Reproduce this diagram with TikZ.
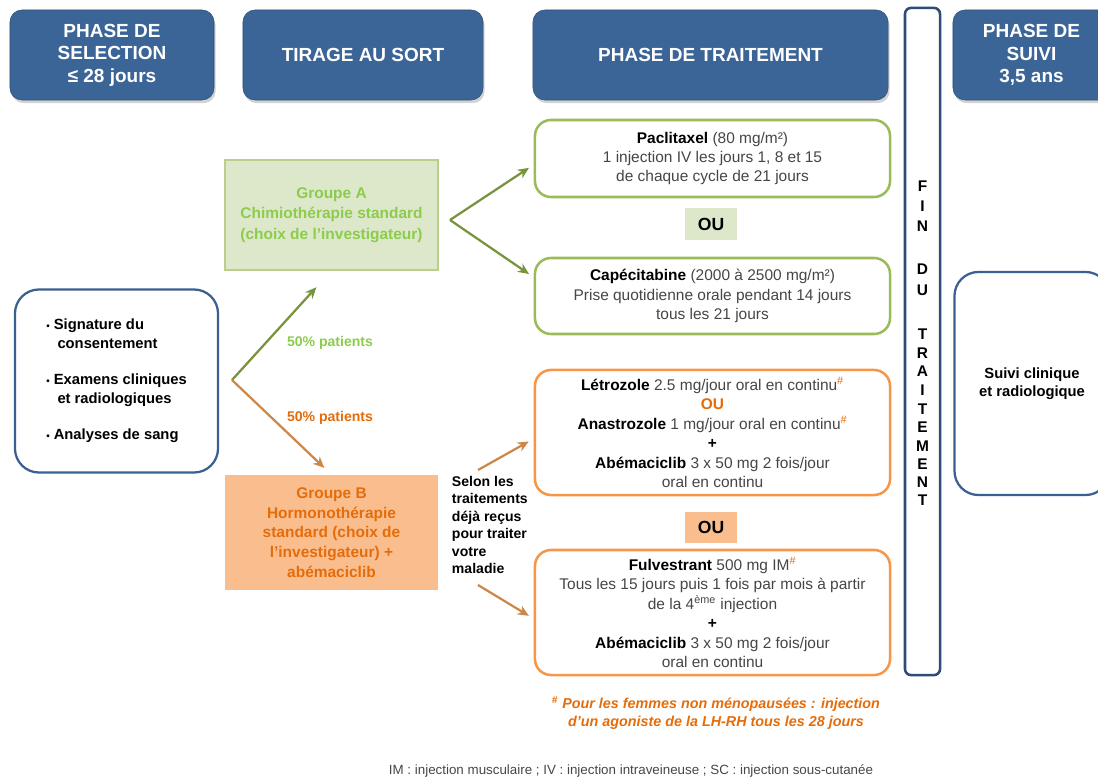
\documentclass[tikz,border=0pt]{standalone}
\usepackage{fontspec}
\setmainfont{Liberation Sans}
\usetikzlibrary{arrows.meta,shadows}

\definecolor{hblue}{RGB}{60,101,151}
\definecolor{bordblue}{RGB}{58,95,145}
\definecolor{grnline}{RGB}{155,187,89}
\definecolor{grnfill}{RGB}{221,232,203}
\definecolor{grntxt}{RGB}{140,204,76}
\definecolor{grnarrow}{RGB}{119,147,60}
\definecolor{orgline}{RGB}{247,150,70}
\definecolor{orgfill}{RGB}{250,190,142}
\definecolor{orgtxt}{RGB}{228,108,10}
\definecolor{orgarrow}{RGB}{205,135,75}
\definecolor{greytxt}{RGB}{70,70,70}

\newcommand{\puce}{{\scriptsize\textbullet}\ }
\newcommand{\diese}{\textsuperscript{\textcolor{orgtxt}{\#}}}
\newcommand{\medoc}[1]{\textcolor{black}{\bfseries #1}}

\begin{document}
\begin{tikzpicture}[x=0.025cm,y=-0.025cm,
  phase/.style={fill=hblue,draw=hblue!80!black,rounded corners=0.3cm,text=white,align=center,
    minimum height=2.25cm,font=\fontsize{13.5}{16}\selectfont\bfseries,
    drop shadow={opacity=0.35,shadow xshift=0.04cm,shadow yshift=-0.08cm}},
  traitbox/.style={draw=#1,line width=1.8pt,fill=white,rounded corners=0.4cm,align=center,
    minimum width=8.875cm,text=greytxt,font=\fontsize{11}{13.8}\selectfont},
  oubox/.style={fill=#1,minimum width=1.3cm,minimum height=0.78cm,
    font=\fontsize{12.5}{14}\selectfont\bfseries},
  fleche/.style={draw=#1,line width=1.6pt,-{Stealth[length=8pt,width=7pt]}}]

\useasboundingbox (0,0) rectangle (1098,780);

% bandeaux des phases
\node[phase,minimum width=5.1cm] (hsel) at (112,55) {PHASE DE\\SELECTION\\≤ 28 jours};
\node[phase,minimum width=6cm] (htir) at (363,55) {TIRAGE AU SORT};
\node[phase,minimum width=8.875cm] (htrt) at (710.5,55) {PHASE DE TRAITEMENT};
\node[phase,minimum width=3.925cm] (hsui) at (1031.5,55) {PHASE DE\\SUIVI\\3,5 ans};

% fin du traitement
\node[draw=bordblue!80!black,line width=1.8pt,fill=white,rounded corners=0.15cm,
  minimum width=0.875cm,minimum height=16.675cm] (fin) at (922.5,341.5) {};
\foreach \lt/\y [count=\i] in {F/186,I/206,N/226,D/269,U/290,T/334,R/353,A/371,I/390,T/409,E/427,M/446,E/464,N/482,T/500}
  \node[font=\fontsize{11}{13}\selectfont\bfseries] (lettre\i) at (922.5,\y) {\lt};

% selection
\node[draw=bordblue,line width=1.6pt,rounded corners=0.6cm,minimum width=5.075cm,minimum height=4.575cm,
  align=left,font=\fontsize{10.5}{13}\selectfont\bfseries] (sel) at (116.5,381)
  {\puce Signature du\\\hspace*{8pt}consentement\\[13pt]\puce Examens cliniques\\\hspace*{8pt}et radiologiques\\[13pt]\puce Analyses de sang};

% tirage au sort
\node[fill=grnfill,draw=grnline!70,line width=0.8pt,minimum width=5.325cm,minimum height=2.75cm,
  align=center,text=grntxt,font=\fontsize{11}{14.5}\selectfont\bfseries] (grpA) at (331.5,215)
  {Groupe A\\Chimiothérapie standard\\(choix de l'investigateur)};
\node[fill=orgfill,minimum width=5.325cm,minimum height=2.875cm,
  align=center,text=orgtxt,font=\fontsize{11}{14}\selectfont\bfseries] (grpB) at (331.5,532.5)
  {Groupe B\\Hormonothérapie\\standard (choix de\\l'investigateur) +\\abémaciclib};

\coordinate (split) at (232,380);
\draw[fleche=grnarrow,shorten >=16pt] (split) -- (grpA.south);
\draw[fleche=orgarrow,shorten >=7pt] (split) -- (grpB.north);
\node[text=grntxt,font=\fontsize{10}{12}\selectfont\bfseries] (pctA) at (330,343) {50\% patients};
\node[text=orgtxt,font=\fontsize{10}{12}\selectfont\bfseries] (pctB) at (330,418) {50\% patients};

% traitements groupe A
\node[traitbox=grnline,minimum height=1.925cm] (pacli) at (712.5,158.5)
  {\medoc{Paclitaxel} (80 mg/m²)\\1 injection IV les jours 1, 8 et 15\\de chaque cycle de 21 jours};
\node[oubox=grnfill] (ouA) at (711,224) {OU};
\node[traitbox=grnline,minimum height=1.9cm] (capec) at (712.5,296)
  {\medoc{Capécitabine} (2000 à 2500 mg/m²)\\Prise quotidienne orale pendant 14 jours\\tous les 21 jours};

\coordinate (forkA) at (450,220);
\draw[fleche=grnarrow,shorten >=4pt] (forkA) -- (pacli.182);
\draw[fleche=grnarrow,shorten >=4pt] (forkA) -- (capec.174);

% traitements groupe B
\node[traitbox=orgline,minimum height=3.125cm] (letro) at (712.5,432.5)
  {\medoc{Létrozole} 2.5 mg/jour oral en continu\diese\\\textcolor{orgtxt}{\bfseries OU}\\
   \medoc{Anastrozole} 1 mg/jour oral en continu\diese\\\medoc{+}\\
   \medoc{Abémaciclib} 3 x 50 mg 2 fois/jour\\oral en continu};
\node[oubox=orgfill] (ouB) at (711,527.5) {OU};
\node[traitbox=orgline,minimum height=3.125cm] (fulv) at (712.5,612.5)
  {\medoc{Fulvestrant} 500 mg IM\diese\\Tous les 15 jours puis 1 fois par mois à partir\\de la 4\textsuperscript{ème} injection\\\medoc{+}\\
   \medoc{Abémaciclib} 3 x 50 mg 2 fois/jour\\oral en continu};

\node[anchor=west,align=left,font=\fontsize{10}{12.4}\selectfont\bfseries] (selon) at (447,525)
  {Selon les\\traitements\\déjà reçus\\pour traiter\\votre\\maladie};
\coordinate (selA) at (478,470);
\coordinate (selB) at (478,585);
\draw[fleche=orgarrow,shorten >=4pt] (selA) -- (letro.182);
\draw[fleche=orgarrow,shorten >=4pt] (selB) -- (fulv.182);

% suivi
\node[draw=bordblue,line width=1.6pt,rounded corners=0.6cm,minimum width=3.875cm,minimum height=5.575cm,
  align=center,font=\fontsize{10.5}{13}\selectfont\bfseries] (suivi) at (1032,383.5)
  {Suivi clinique\\et radiologique};

% notes
\node[align=center,text=orgtxt,font=\fontsize{10.2}{12.2}\selectfont\bfseries\itshape] (note) at (716,713)
  {\textsuperscript{\#} Pour les femmes non ménopausées : injection\\d'un agoniste de la LH-RH tous les 28 jours};
\node[text=greytxt,font=\fontsize{9.5}{11}\selectfont] (abbr) at (631,771)
  {IM : injection musculaire ; IV : injection intraveineuse ; SC : injection sous-cutanée};

\end{tikzpicture}
\end{document}
